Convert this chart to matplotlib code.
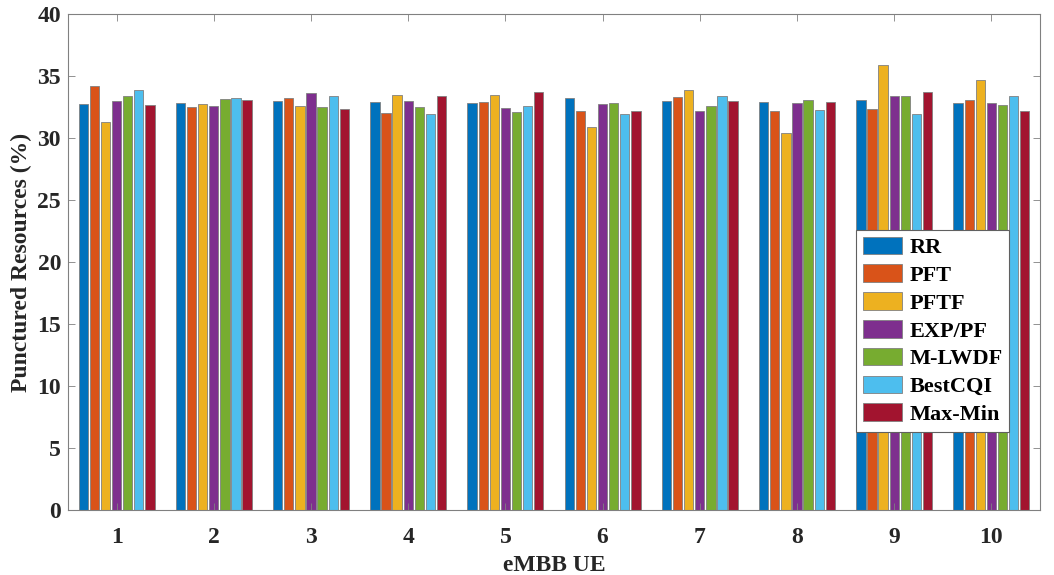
import matplotlib.pyplot as plt
import numpy as np

plt.rcParams['font.family'] = ['Liberation Serif', 'DejaVu Serif']
plt.rcParams['font.weight'] = 'bold'

ues = [1, 2, 3, 4, 5, 6, 7, 8, 9, 10]
schedulers = ['RR', 'PFT', 'PFTF', 'EXP/PF', 'M-LWDF', 'BestCQI', 'Max-Min']
rr      = [32.76, 32.80, 32.97, 32.90, 32.80, 33.20, 32.97, 32.90, 33.05, 32.86]
pft     = [34.20, 32.50, 33.20, 32.00, 32.90, 32.20, 33.30, 32.20, 32.30, 33.05]
pftf    = [31.30, 32.75, 32.60, 33.50, 33.50, 30.90, 33.90, 30.40, 35.87, 34.66]
exppf   = [33.00, 32.55, 33.60, 33.00, 32.45, 32.75, 32.15, 32.80, 33.40, 32.86]
mlwdf   = [33.40, 33.15, 32.50, 32.50, 32.10, 32.80, 32.55, 33.05, 33.40, 32.67]
bestcqi = [33.90, 33.25, 33.40, 31.90, 32.55, 31.90, 33.40, 32.25, 31.97, 33.35]
maxmin  = [32.65, 33.10, 32.30, 33.40, 33.70, 32.15, 32.97, 32.90, 33.70, 32.20]
series = [rr, pft, pftf, exppf, mlwdf, bestcqi, maxmin]
colors = ['#0072BD', '#D95319', '#EDB120', '#7E2F8E', '#77AC30', '#4DBEEE', '#A2142F']

fig = plt.figure(figsize=(10.54, 5.75), dpi=100)
ax = fig.add_axes([68/1054, 1 - 510/575, (1040-68)/1054, (510-14)/575])

x = np.array(ues, dtype=float)
n = len(series)
group_w = 0.8
bw = group_w / n
for i, (vals, c, lab) in enumerate(zip(series, colors, schedulers)):
    off = -group_w/2 + bw*(i + 0.5)
    ax.bar(x + off, vals, width=bw*0.84, color=c, edgecolor='#808080',
           linewidth=0.6, label=lab)

ax.set_xlim(0.5, 10.5)
ax.set_ylim(0, 40)
ax.set_xticks(ues)
ax.set_yticks(range(0, 41, 5))
ax.tick_params(axis='both', direction='in', labelsize=17, colors='#808080',
               labelcolor='#262626', length=5, width=0.6)
ax.tick_params(axis='x', pad=12)
ax.tick_params(axis='y', pad=5)
ax.tick_params(top=True, right=True)
for lab in ax.get_xticklabels() + ax.get_yticklabels():
    lab.set_fontweight('bold')
for s in ax.spines.values():
    s.set_color('#808080')
    s.set_linewidth(0.8)
ax.set_xlabel('eMBB UE', fontsize=17, fontweight='bold', color='#262626', labelpad=5)
ax.set_ylabel('Punctured Resources (%)', fontsize=17, fontweight='bold', color='#262626', labelpad=4)

leg = ax.legend(loc='upper left', bbox_to_anchor=((856-68)/972, (510-230)/496),
                fontsize=16, frameon=True, fancybox=False, framealpha=1,
                borderpad=0.3, labelspacing=0.28, handlelength=1.75,
                handleheight=0.85, handletextpad=0.35, borderaxespad=0)
leg.get_frame().set_edgecolor('#606060')
leg.get_frame().set_linewidth(0.8)
for t in leg.get_texts():
    t.set_fontweight('bold')

fig.savefig('out.png', dpi=100)
